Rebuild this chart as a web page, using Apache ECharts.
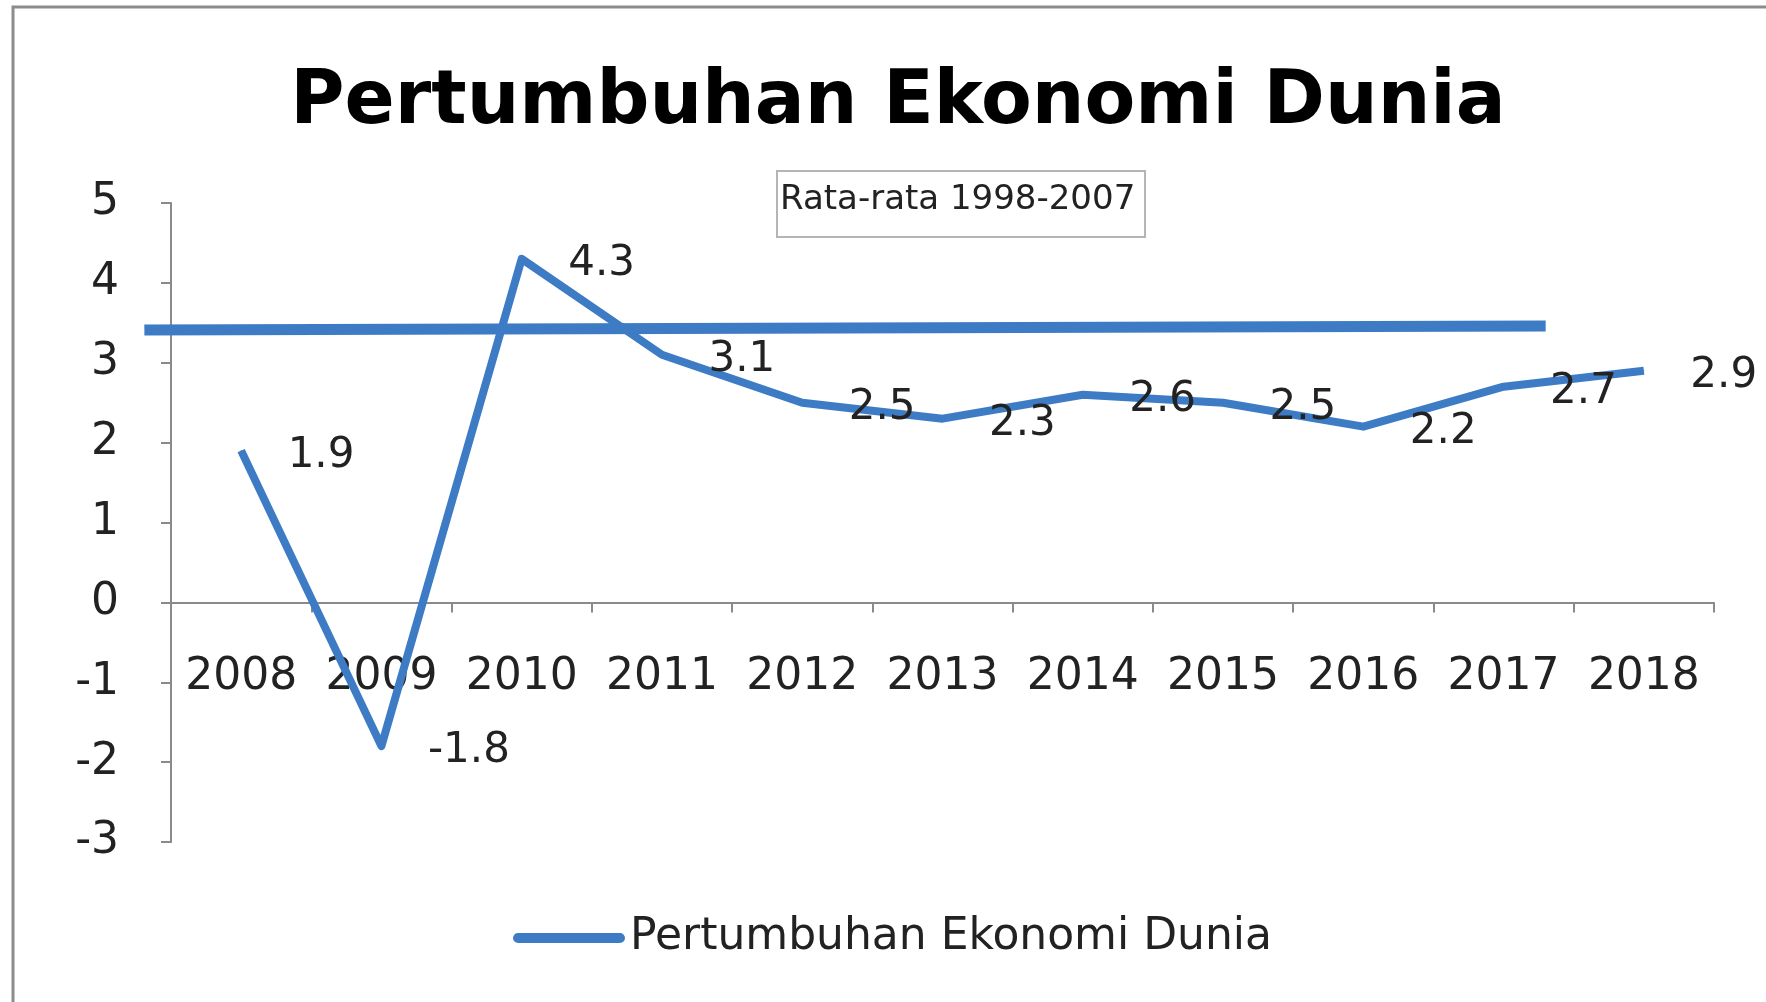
<!DOCTYPE html>
<html>
<head>
<meta charset="utf-8">
<title>Pertumbuhan Ekonomi Dunia</title>
<script src="https://cdn.jsdelivr.net/npm/echarts@6/dist/echarts.min.js"></script>
<style>
    html, body { margin: 0; padding: 0; background: #fff; }
    #chart { width: 1766px; height: 1002px; }
</style>
</head>
<body>
<div id="chart"></div>
<script>
// data
let years = ['2008', '2009', '2010', '2011', '2012', '2013', '2014', '2015', '2016', '2017', '2018'];
let growth = [1.9, -1.8, 4.3, 3.1, 2.5, 2.3, 2.6, 2.5, 2.2, 2.7, 2.9];
// average 1998-2007 line: [x0, y0, x1, y1], x in category units (0 = left edge of 2008 band)
let avgLine = [[-0.19, 3.41, 9.8, 3.46]];
let yTicks = { min: -3, max: 5, step: 1 };

(function() {
    let myChart = echarts.init(document.querySelector('#chart'))
    let blue = '#3d7cc5'
    let font = '"DejaVu Sans", sans-serif'
    let grid = { left: 171, right: 52, top: 203, bottom: 160 }
    // x axis sits on the zero line
    let gridH = 1002 - grid.top - grid.bottom
    let zeroOffset = -gridH * (0 - yTicks.min) / (yTicks.max - yTicks.min)

    let option = {
        backgroundColor: '#fff',
        animation: false,
        title: [{
            text: 'Pertumbuhan Ekonomi Dunia',
            left: 893,
            textAlign: 'center',
            top: 62,
            textStyle: { fontFamily: font, fontSize: 74, fontWeight: 'bold', color: '#000' }
        }, {
            text: 'Rata-rata 1998-2007',
            left: 777,
            top: 171,
            borderColor: '#b5b5b5',
            borderWidth: 2,
            padding: [12, 10, 20, 3],
            textStyle: { fontFamily: font, fontSize: 34, fontWeight: 'normal', color: '#222' }
        }],
        graphic: [{
            type: 'rect',
            shape: { x: 13, y: 7, width: 1800, height: 1100 },
            style: { fill: null, stroke: '#8c8c8c', lineWidth: 3 },
            silent: true
        }],
        legend: {
            data: [{
                name: 'Pertumbuhan Ekonomi Dunia',
                icon: 'path://M5,0 H105 A5,5 0 0 1 105,10 H5 A5,5 0 0 1 5,0 Z'
            }],
            bottom: 37,
            left: 508,
            itemWidth: 112,
            itemHeight: 11,
            itemGap: 14,
            textStyle: { fontFamily: font, fontSize: 44, color: '#222' }
        },
        grid: grid,
        xAxis: [{
            type: 'category',
            data: years,
            boundaryGap: true,
            position: 'bottom',
            offset: zeroOffset,
            axisLine: { onZero: false, lineStyle: { color: '#8a8a8a', width: 2 } },
            axisTick: { show: true, length: 10, lineStyle: { color: '#8a8a8a', width: 2 } },
            axisLabel: { margin: 53, fontFamily: font, fontSize: 44, color: '#222', interval: 0 }
        }, {
            type: 'value',
            min: 0,
            max: years.length,
            show: false
        }],
        yAxis: {
            type: 'value',
            min: yTicks.min,
            max: yTicks.max,
            interval: yTicks.step,
            splitLine: { show: false },
            axisLine: { show: true, lineStyle: { color: '#8a8a8a', width: 2 } },
            axisTick: { show: true, length: 10, lineStyle: { color: '#8a8a8a', width: 2 } },
            axisLabel: { margin: 52, fontFamily: font, fontSize: 44, color: '#222' }
        },
        series: [{
            name: 'Rata-rata 1998-2007',
            type: 'custom',
            xAxisIndex: 1,
            data: avgLine,
            clip: false,
            renderItem: function(params, api) {
                let p0 = api.coord([api.value(0), api.value(1)])
                let p1 = api.coord([api.value(2), api.value(3)])
                return {
                    type: 'line',
                    shape: { x1: p0[0], y1: p0[1], x2: p1[0], y2: p1[1] },
                    style: { stroke: blue, lineWidth: 11, lineCap: 'butt' }
                }
            },
            z: 3
        }, {
            name: 'Pertumbuhan Ekonomi Dunia',
            type: 'line',
            data: growth,
            symbol: 'circle',
            symbolSize: 1,
            showSymbol: true,
            color: blue,
            itemStyle: { color: blue },
            lineStyle: { color: blue, width: 8, cap: 'butt', join: 'round' },
            label: {
                show: true,
                position: 'right',
                distance: 46,
                offset: [0, 5],
                fontFamily: font,
                fontSize: 42,
                color: '#222'
            },
            z: 4
        }]
    }
    myChart.setOption(option)
})()
</script>
</body>
</html>
